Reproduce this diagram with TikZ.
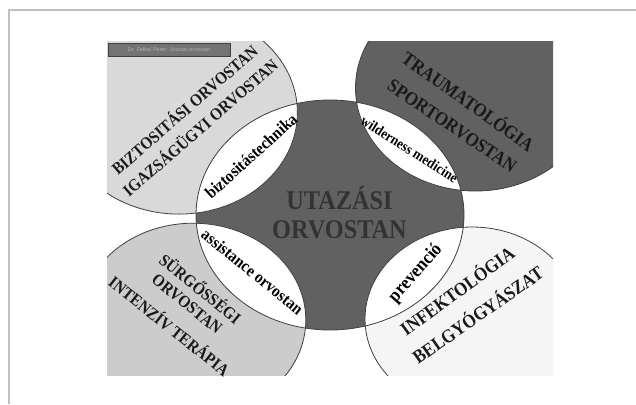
\documentclass[tikz,border=0pt]{standalone}
\usepackage{fontspec}
\setmainfont{Liberation Serif}
\newfontfamily\labfont{Liberation Sans}
\begin{document}
\begin{tikzpicture}[x=1pt,y=-1pt,
  outl/.style={draw=black!75, line width=0.8pt},
  big/.style={font=\bfseries\fontsize{17}{17}\selectfont, text=black!90, inner sep=0pt},
  bigR/.style={font=\bfseries\fontsize{19}{19}\selectfont, text=black!90, inner sep=0pt},
  lens/.style={font=\bfseries\fontsize{#1}{#1}\selectfont, text=black, inner sep=0pt},
]
\useasboundingbox (0,0) rectangle (636,404);
\fill[white] (0,0) rectangle (636,404);
\draw[black!25, line width=2pt] (8.5,404) -- (8.5,10) -- (636,10);

\coordinate (cC) at (330,215);
\coordinate (cTL) at (179,112.5);
\coordinate (cTR) at (475.5,88);
\coordinate (cBL) at (193,320);
\coordinate (cBR) at (472,319);

\begin{scope}
\clip (107,42) rectangle (553,375);
\fill[black!15] (cTL) ellipse [x radius=118.4pt, y radius=101.6pt];
\fill[black!62] (cTR) ellipse [x radius=120pt, y radius=103pt];
\fill[black!20] (cBL) ellipse [x radius=112.8pt, y radius=96.8pt];
\fill[black!4] (cBR) ellipse [x radius=107pt, y radius=92pt];
\fill[black!62] (cC) ellipse [x radius=134pt, y radius=115pt];
\begin{scope}
\clip (cTL) ellipse [x radius=118.4pt, y radius=101.6pt];
\fill[white] (cC) ellipse [x radius=134pt, y radius=115pt];
\end{scope}
\begin{scope}
\clip (cTR) ellipse [x radius=120pt, y radius=103pt];
\fill[white] (cC) ellipse [x radius=134pt, y radius=115pt];
\end{scope}
\begin{scope}
\clip (cBL) ellipse [x radius=112.8pt, y radius=96.8pt];
\fill[white] (cC) ellipse [x radius=134pt, y radius=115pt];
\end{scope}
\begin{scope}
\clip (cBR) ellipse [x radius=107pt, y radius=92pt];
\fill[white] (cC) ellipse [x radius=134pt, y radius=115pt];
\end{scope}
\draw[outl] (cTL) ellipse [x radius=118.4pt, y radius=101.6pt];
\draw[outl] (cTR) ellipse [x radius=120pt, y radius=103pt];
\draw[outl] (cBL) ellipse [x radius=112.8pt, y radius=96.8pt];
\draw[outl] (cBR) ellipse [x radius=107pt, y radius=92pt];
\draw[outl] (cC) ellipse [x radius=134pt, y radius=115pt];
\end{scope}

\node[big, rotate=41, xscale=0.9] (t1) at (184,109) {BIZTOSITÁSI ORVOSTAN};
\node[big, rotate=41, xscale=0.9] (t2) at (199.5,127) {IGAZSÁGÜGYI ORVOSTAN};
\node[lens=17, rotate=42, xscale=0.9] (l1) at (251,156) {biztositástechnika};
\node[bigR, rotate=-35.5, xscale=0.9] (t3) at (469,100.5) {TRAUMATOLÓGIA};
\node[bigR, rotate=-34, xscale=0.9] (t4) at (452,126) {SPORTORVOSTAN};
\node[lens=14.5, rotate=-32.5, xscale=0.9] (l2) at (409.5,149.5) {wilderness medicine};
\node[big, rotate=-39, xscale=0.9] (t5) at (201,288) {SÜRGŐSSÉGI};
\node[big, rotate=-39, xscale=0.9] (t6) at (187,304) {ORVOSTAN};
\node[big, rotate=-38.5, xscale=0.9] (t7) at (170,325.5) {INTENZÍV TERÁPIA};
\node[lens=17, rotate=-39, xscale=0.9] (l3) at (252.5,271.7) {assistance orvostan};
\node[lens=19, rotate=48.5, xscale=0.9] (l4) at (415.7,273.5) {prevenció};
\node[bigR, rotate=36, xscale=0.9] (t8) at (456.5,290) {INFEKTOLÓGIA};
\node[bigR, rotate=35, xscale=0.9] (t9) at (477,314) {BELGYÓGYÁSZAT};
\node[font=\bfseries\fontsize{27}{29}\selectfont, text=black!80, align=center, inner sep=0pt, xscale=0.9] (ctr) at (339.5,213) {UTAZÁSI\\ORVOSTAN};

\node[draw=black!75, fill=black!55, minimum width=122pt, minimum height=13pt, inner sep=0pt, font=\labfont\fontsize{5.5}{6}\selectfont, text=black!30] (lab) at (169,49.5) {Dr. Felkai Péter: Utazási orvostan};
\end{tikzpicture}
\end{document}
